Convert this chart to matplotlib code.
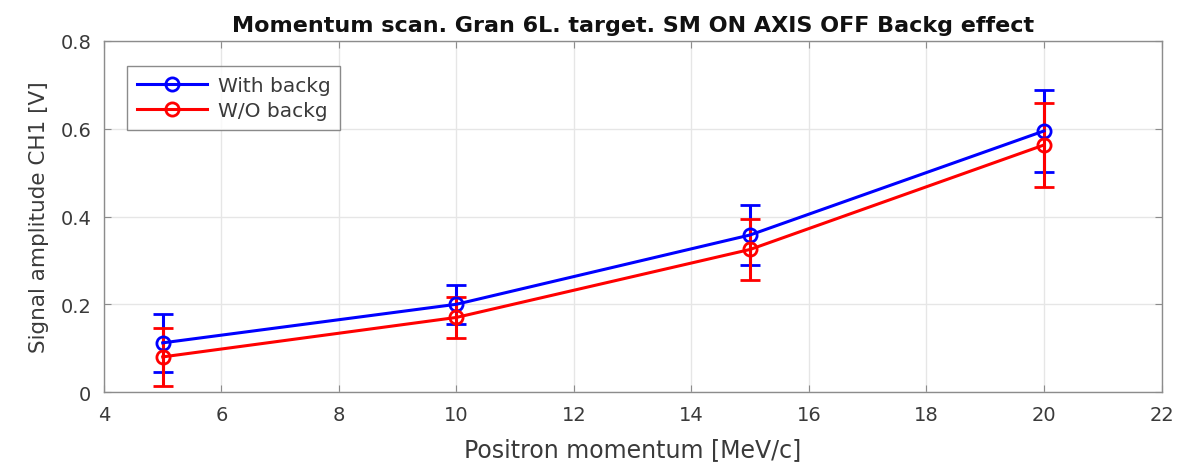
import matplotlib
matplotlib.use("Agg")
import matplotlib.pyplot as plt

momentum = [5, 10, 15, 20]
with_backg = [0.112, 0.200, 0.358, 0.595]
with_backg_err = [0.066, 0.045, 0.068, 0.094]
wo_backg = [0.080, 0.170, 0.325, 0.563]
wo_backg_err = [0.066, 0.046, 0.069, 0.095]

plt.rcParams['font.family'] = ['DejaVu Sans']

fig = plt.figure(figsize=(11.84, 4.64), dpi=100)
ax = fig.add_axes([0.0878, 0.153, 0.8932, 0.7565])

style = dict(lw=2.2, marker='o', markersize=9.5, markerfacecolor='none',
             markeredgewidth=2, capsize=7, capthick=2.2, elinewidth=2.2)
eb1 = ax.errorbar(momentum, with_backg, yerr=with_backg_err, color='#0000ff', **style)
eb2 = ax.errorbar(momentum, wo_backg, yerr=wo_backg_err, color='#ff0000', **style)

ax.set_xlim(4, 22)
ax.set_ylim(0, 0.8)
ax.set_xticks(range(4, 23, 2))
ax.set_yticks([0, 0.2, 0.4, 0.6, 0.8])
ax.set_yticklabels(['0', '0.2', '0.4', '0.6', '0.8'])
ax.grid(True, color='#e6e6e6', lw=1)
ax.set_axisbelow(True)
for s in ax.spines.values():
    s.set_color('#8c8c8c')
    s.set_linewidth(1.0)
ax.tick_params(direction='in', length=5, labelsize=14, colors='#8c8c8c',
               labelcolor='#3a3a3a', top=True, right=True, pad=9)

ax.set_xlabel('Positron momentum [MeV/c]', fontsize=17, color='#3a3a3a', labelpad=10)
ax.set_ylabel('Signal amplitude CH1 [V]', fontsize=15.5, color='#3a3a3a', labelpad=8)
ax.set_title('Momentum scan. Gran 6L. target. SM ON AXIS OFF Backg effect',
             fontsize=16, fontweight='bold', color='#111111', pad=7)

leg = ax.legend([eb1[0], eb2[0]], ['With backg', 'W/O backg'],
                loc='upper left', bbox_to_anchor=(0.0217, 0.929), fontsize=14.5,
                frameon=True, fancybox=False, edgecolor='#6e6e6e',
                handlelength=3.5, handletextpad=0.5, borderpad=0.5,
                labelspacing=0.3, borderaxespad=0)
leg.get_frame().set_linewidth(1.0)
for t in leg.get_texts():
    t.set_color('#3a3a3a')

fig.savefig('out.png', dpi=100)
